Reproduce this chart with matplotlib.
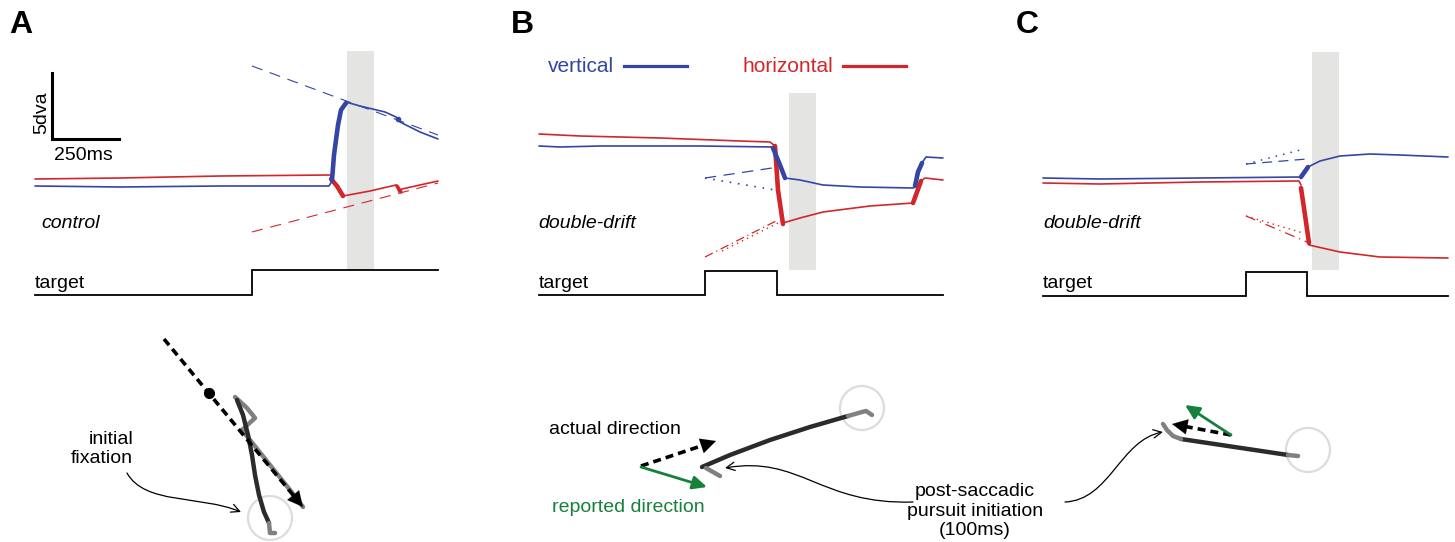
import numpy as np
import matplotlib.pyplot as plt
from matplotlib.patches import Rectangle, Circle, FancyArrowPatch
from matplotlib.path import Path

plt.rcParams['font.family'] = ['Liberation Sans', 'DejaVu Sans']

BLUE = '#3446a3'
RED = '#d3262b'
GREEN = '#17803d'
DARK = '#2b2b2b'
MID = '#808080'
BAND = '#e4e4e2'
RING = '#dcdcdc'
FS = 14

# ---- top row: eye position traces (figure pixel coords) ----
# panel A (control)
A_blue_x = [35, 120, 220, 329, 332]
A_blue_y = [186, 187, 186, 186, 181]
A_blue_sac_x = [332, 334, 338, 341, 346]
A_blue_sac_y = [180, 155, 125, 110, 103]
A_blue_post_x = [346, 360, 385, 396, 400, 420, 438]
A_blue_post_y = [102, 106, 112, 117, 122, 132, 139]
A_red_x = [35, 120, 220, 330]
A_red_y = [179, 178, 176, 175]
A_red_sac_x = [331, 337, 343]
A_red_sac_y = [179, 186, 196]
A_red_post_x = [343, 370, 396, 399, 402, 420, 438]
A_red_post_y = [196, 191, 185, 192, 189, 185, 181]
A_blue_fit = ([252, 438], [66, 135])
A_red_fit = ([252, 438], [232, 183])
A_band = (347, 374, 51, 270)
A_target_x = [35, 252, 252, 438]
A_target_y = [295, 295, 270, 270]

# panel B (double-drift)
B_red_x = [539, 580, 660, 740, 770, 775]
B_red_y = [134, 136, 138, 141, 142, 146]
B_red_sac_x = [775, 778, 783]
B_red_sac_y = [146, 190, 224]
B_red_post_x = [783, 800, 823, 870, 913]
B_red_post_y = [223, 218, 212, 206, 203]
B_red_sac2_x = [913, 917, 921]
B_red_sac2_y = [203, 192, 181]
B_red_end_x = [921, 925, 943]
B_red_end_y = [181, 178, 180]
B_blue_x = [539, 560, 600, 700, 773]
B_blue_y = [146, 147, 146, 146, 147]
B_blue_sac_x = [773, 780, 785]
B_blue_sac_y = [148, 165, 178]
B_blue_post_x = [785, 800, 823, 860, 913, 916]
B_blue_post_y = [178, 180, 185, 187, 188, 186]
B_blue_sac2_x = [915, 918, 922]
B_blue_sac2_y = [186, 172, 163]
B_blue_end_x = [922, 926, 943]
B_blue_end_y = [163, 157, 158]
B_blue_dash = ([705, 772], [178, 168])
B_blue_dot = ([705, 775], [178, 190])
B_red_dash = ([705, 776], [257, 221])
B_red_dot = ([722, 778], [251, 223])
B_band = (789, 816, 93, 270)
B_target_x = [539, 705, 705, 777, 777, 943]
B_target_y = [295, 295, 271, 271, 295, 295]

# panel C (double-drift)
C_blue_x = [1043, 1100, 1200, 1300]
C_blue_y = [178, 179, 178, 177]
C_blue_sac_x = [1301, 1308]
C_blue_sac_y = [177, 167]
C_blue_post_x = [1308, 1320, 1340, 1370, 1400, 1448]
C_blue_post_y = [167, 161, 156, 154, 155, 157]
C_red_x = [1043, 1100, 1200, 1299, 1301]
C_red_y = [183, 184, 182, 181, 185]
C_red_sac_x = [1301, 1305, 1309]
C_red_sac_y = [188, 215, 243]
C_red_post_x = [1309, 1340, 1380, 1448]
C_red_post_y = [245, 252, 257, 258]
C_blue_dot = ([1246, 1304], [164, 149])
C_blue_dash = ([1246, 1307], [164, 159])
C_red_dash = ([1246, 1307], [216, 242])
C_red_dot = ([1246, 1303], [216, 233])
C_band = (1312, 1339, 52, 270)
C_target_x = [1043, 1246, 1246, 1307, 1307, 1448]
C_target_y = [296, 296, 272, 272, 296, 296]

# ---- bottom row: 2D gaze paths ----
A_arrow = ((164, 339), (303, 507))
A_dot = (209, 393)
A_dark_x = [237, 243, 248, 252, 255, 259, 264, 269]
A_dark_y = [400, 415, 435, 455, 475, 495, 512, 523]
A_gray_x = [235, 247, 255, 242, 250, 270, 290, 303]
A_gray_y = [397, 408, 418, 430, 440, 465, 490, 507]
A_gray_end_x = [269, 270, 275]
A_gray_end_y = [523, 533, 533]
A_ring = (270, 518)

B_dark_x = [702, 730, 770, 810, 848]
B_dark_y = [467, 455, 440, 427, 416]
B_gray_end_x = [848, 862, 866, 872]
B_gray_end_y = [416, 412, 411, 415]
B_gray_start_x = [706, 720]
B_gray_start_y = [468, 476]
B_ring = (862, 408)
B_actual = ((641, 466), (716, 441))
B_reported = ((641, 467), (707, 487))

C_dark_x = [1181, 1288]
C_dark_y = [439, 455]
C_gray_end_x = [1288, 1298]
C_gray_end_y = [455, 456]
C_gray_start_x = [1163, 1167, 1173, 1181]
C_gray_start_y = [424, 430, 436, 439]
C_ring = (1308, 450)
C_actual = ((1231, 435), (1172, 424))
C_reported = ((1231, 435), (1185, 405))

RING_R = 22

fig = plt.figure(figsize=(14.55, 5.42), dpi=100)
ax = fig.add_axes([0, 0, 1, 1])
ax.set_xlim(0, 1455)
ax.set_ylim(542, 0)
ax.axis('off')

thin = 1.2
thick = 3.3

def band(b):
    x0, x1, y0, y1 = b
    ax.add_patch(Rectangle((x0, y0), x1 - x0, y1 - y0, color=BAND, lw=0, zorder=0))

def trace(x, y, c, lw):
    ax.plot(x, y, color=c, lw=lw, solid_capstyle='round', solid_joinstyle='round', zorder=3)

for b in (A_band, B_band, C_band):
    band(b)

# panel A traces
trace(A_red_x, A_red_y, RED, thin)
trace(A_red_sac_x, A_red_sac_y, RED, thick)
trace(A_red_post_x, A_red_post_y, RED, thin)
trace([397, 401], [186, 192], RED, 2.5)
trace(A_blue_x, A_blue_y, BLUE, thin)
trace(A_blue_sac_x, A_blue_sac_y, BLUE, thick)
trace(A_blue_post_x, A_blue_post_y, BLUE, thin)
ax.plot([398], [119], 'o', color=BLUE, ms=3, zorder=3)
ax.plot(*A_blue_fit, color=BLUE, lw=0.8, dashes=(10, 7))
ax.plot(*A_red_fit, color=RED, lw=0.8, dashes=(10, 7))

# panel B traces
trace(B_red_x, B_red_y, RED, thin)
trace(B_red_sac_x, B_red_sac_y, RED, thick)
trace(B_red_post_x, B_red_post_y, RED, thin)
trace(B_red_sac2_x, B_red_sac2_y, RED, thick)
trace(B_red_end_x, B_red_end_y, RED, thin)
trace(B_blue_x, B_blue_y, BLUE, thin)
trace(B_blue_sac_x, B_blue_sac_y, BLUE, thick)
trace(B_blue_post_x, B_blue_post_y, BLUE, thin)
trace(B_blue_sac2_x, B_blue_sac2_y, BLUE, thick)
trace(B_blue_end_x, B_blue_end_y, BLUE, thin)
ax.plot(*B_blue_dash, color=BLUE, lw=0.9, dashes=(9, 6))
ax.plot(*B_blue_dot, color=BLUE, lw=1.2, dashes=(1, 4))
ax.plot(*B_red_dash, color=RED, lw=0.9, dashes=(7, 3, 1, 3))
ax.plot(*B_red_dot, color=RED, lw=1.0, dashes=(1, 3))

# panel C traces
trace(C_blue_x, C_blue_y, BLUE, thin)
trace(C_blue_sac_x, C_blue_sac_y, BLUE, thick)
trace(C_blue_post_x, C_blue_post_y, BLUE, thin)
trace(C_red_x, C_red_y, RED, thin)
trace(C_red_sac_x, C_red_sac_y, RED, thick)
trace(C_red_post_x, C_red_post_y, RED, thin)
ax.plot(*C_blue_dot, color=BLUE, lw=1.1, dashes=(1, 4))
ax.plot(*C_blue_dash, color=BLUE, lw=0.9, dashes=(8, 5))
ax.plot(*C_red_dash, color=RED, lw=0.9, dashes=(8, 4, 1, 4))
ax.plot(*C_red_dot, color=RED, lw=1.0, dashes=(1, 3))

# target steps
for tx, ty in ((A_target_x, A_target_y), (B_target_x, B_target_y), (C_target_x, C_target_y)):
    ax.plot(tx, ty, color='black', lw=1.3, solid_joinstyle='miter', zorder=2)
    ax.text(tx[0], 283, 'target', fontsize=FS, va='center', ha='left')

# scale bar
ax.plot([52, 52, 119], [73, 139, 139], color='black', lw=2.2, solid_joinstyle='miter')
ax.text(42, 113, '5dva', rotation=90, fontsize=FS, ha='center', va='center')
ax.text(54, 155, '250ms', fontsize=FS, ha='left', va='center')

ax.text(41, 224, 'control', fontsize=FS, style='italic', va='center')
ax.text(538, 224, 'double-drift', fontsize=FS, style='italic', va='center')
ax.text(1043, 224, 'double-drift', fontsize=FS, style='italic', va='center')

# legend
ax.text(548, 67, 'vertical', color=BLUE, fontsize=15, va='center')
ax.plot([624, 687], [66, 66], color=BLUE, lw=2.3)
ax.text(742, 67, 'horizontal', color=RED, fontsize=15, va='center')
ax.plot([843, 906], [66, 66], color=RED, lw=2.3)

# panel letters
for lbl, lx in (('A', 9), ('B', 511), ('C', 1016)):
    ax.text(lx, 25, lbl, fontsize=23, fontweight='bold', va='center', ha='left')

# ---- bottom row drawing ----
def dashed_arrow(p0, p1, lw=2.6):
    p0 = np.array(p0, float)
    p1 = np.array(p1, float)
    d = (p1 - p0) / np.hypot(*(p1 - p0))
    stop = p1 - d * 11
    ax.plot([p0[0], stop[0]], [p0[1], stop[1]], color='black', lw=lw, dashes=(2.2, 1.4), zorder=4)
    ax.annotate('', xy=p1, xytext=p1 - d * 14,
                arrowprops=dict(arrowstyle='-|>,head_length=1.1,head_width=0.55', color='black', lw=0.1,
                                shrinkA=0, shrinkB=0), zorder=4)

def green_arrow(p0, p1):
    ax.annotate('', xy=p1, xytext=p0,
                arrowprops=dict(arrowstyle='-|>,head_length=0.85,head_width=0.4', color=GREEN, lw=2.0,
                                shrinkA=0, shrinkB=0), zorder=4)

def ring(c):
    ax.add_patch(Circle(c, RING_R, fill=False, ec=RING, lw=1.6, zorder=1))

def gaze(x, y, c, lw=3.2):
    ax.plot(x, y, color=c, lw=lw, solid_capstyle='round', solid_joinstyle='round', zorder=3)

def curved(verts, z=5):
    path = Path(verts, [Path.MOVETO, Path.CURVE4, Path.CURVE4, Path.CURVE4])
    ax.add_patch(FancyArrowPatch(path=path, arrowstyle='->,head_length=0.5,head_width=0.25',
                                 color='black', lw=0.9, mutation_scale=12, zorder=z))

# A
ring(A_ring)
gaze(A_gray_x, A_gray_y, MID)
gaze(A_dark_x, A_dark_y, DARK)
gaze(A_gray_end_x, A_gray_end_y, MID)
dashed_arrow(*A_arrow)
ax.plot(*A_dot, 'o', color='black', ms=7, zorder=5)
ax.text(133, 449, 'initial\nfixation', fontsize=FS, ha='right', va='center', multialignment='right',
        linespacing=1.2)
curved([(127, 473), (145, 505), (200, 495), (241, 512)])

# B
ring(B_ring)
gaze(B_dark_x, B_dark_y, DARK)
gaze(B_gray_end_x, B_gray_end_y, MID)
gaze(B_gray_start_x, B_gray_start_y, MID)
dashed_arrow(*B_actual)
green_arrow(*B_reported)
ax.text(549, 429, 'actual direction', fontsize=FS, va='center')
ax.text(552, 508, 'reported direction', fontsize=FS, va='center', color=GREEN)
curved([(913, 502), (820, 505), (800, 455), (725, 468)])

# C
ring(C_ring)
gaze(C_dark_x, C_dark_y, DARK)
gaze(C_gray_end_x, C_gray_end_y, MID)
gaze(C_gray_start_x, C_gray_start_y, MID)
dashed_arrow(*C_actual)
green_arrow(*C_reported)
curved([(1065, 502), (1110, 500), (1120, 440), (1163, 432)])

ax.text(975, 511, 'post-saccadic\npursuit initiation\n(100ms)', fontsize=FS, ha='center', va='center',
        linespacing=1.2)

fig.savefig('out.png', dpi=100)
